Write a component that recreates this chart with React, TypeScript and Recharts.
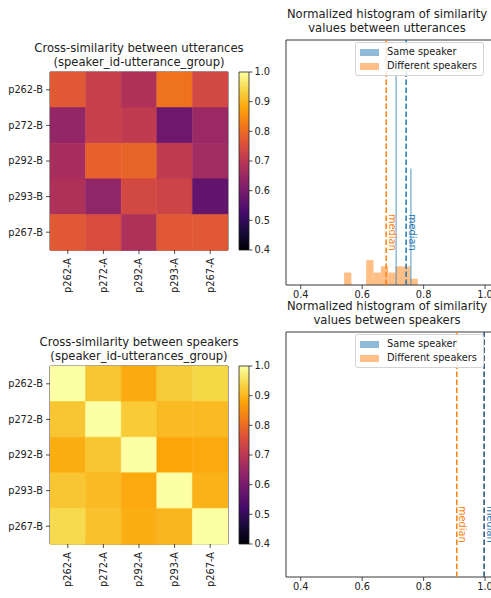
import React from 'react';
import {
  BarChart,
  Bar,
  XAxis,
  YAxis,
  Cell,
  ComposedChart,
  ReferenceArea,
  ReferenceLine,
  Legend,
} from 'recharts';

const FONT = '"DejaVu Sans", Verdana, sans-serif';
const INK = '#222';

// ---------- data ----------
const rowLabels = ['p262-B', 'p272-B', 'p292-B', 'p293-B', 'p267-B'];
const colLabels = ['p262-A', 'p272-A', 'p292-A', 'p293-A', 'p267-A'];

const utteranceMatrix = [
  [0.77, 0.72, 0.68, 0.81, 0.74],
  [0.64, 0.72, 0.71, 0.585, 0.65],
  [0.67, 0.785, 0.79, 0.71, 0.66],
  [0.68, 0.635, 0.74, 0.73, 0.57],
  [0.77, 0.75, 0.68, 0.77, 0.77],
];

const speakerMatrix = [
  [1.0, 0.92, 0.887, 0.926, 0.94],
  [0.92, 1.0, 0.925, 0.905, 0.905],
  [0.89, 0.92, 1.0, 0.88, 0.885],
  [0.92, 0.905, 0.885, 1.0, 0.895],
  [0.945, 0.915, 0.89, 0.9, 1.0],
];

const colorbarTicks = [0.4, 0.5, 0.6, 0.7, 0.8, 0.9, 1.0];
const histTicks = [0.4, 0.6, 0.8, 1.0];

// top histogram (utterances)
const uttDiffBinStarts = [0.541, 0.613, 0.637, 0.661, 0.685, 0.709, 0.733, 0.757];
const uttDiffDensity = [4.17, 8.33, 4.17, 6.25, 4.17, 6.25, 6.25, 2.08];
const uttDiffBinWidth = 0.024;
const uttSameBinStarts = [0.708, 0.756];
const uttSameDensity = [70, 39];
const uttSameBinWidth = 0.005;
const uttMedianSame = 0.743;
const uttMedianDiff = 0.678;

// bottom histogram (speakers)
const spkMedianSame = 0.997;
const spkMedianDiff = 0.908;

const legendLabels = ['Same speaker', 'Different speakers'];
const legendColors = ['#1f77b4', '#ff7f0e'];

// ---------- colormap ----------
const infernoStops = [
  '#000004', '#160b39', '#420a68', '#6a176e', '#932667', '#bc3754',
  '#dd513a', '#f37819', '#fca50a', '#f6d746', '#fcffa4',
];
const VMIN = 0.4;
const VMAX = 1.0;
function hexToRgb(h: string) {
  return [parseInt(h.slice(1, 3), 16), parseInt(h.slice(3, 5), 16), parseInt(h.slice(5, 7), 16)];
}
function inferno(v: number) {
  let t = (v - VMIN) / (VMAX - VMIN);
  t = Math.max(0, Math.min(1, t));
  const p = t * (infernoStops.length - 1);
  const i = Math.min(Math.floor(p), infernoStops.length - 2);
  const f = p - i;
  const a = hexToRgb(infernoStops[i]);
  const b = hexToRgb(infernoStops[i + 1]);
  const c = a.map((x, k) => Math.round(x + (b[k] - x) * f));
  return `rgb(${c[0]},${c[1]},${c[2]})`;
}

// ---------- helpers ----------
const Title = ({ cx, top, lines }: { cx: number; top: number; lines: string[] }) => (
  <div
    style={{
      position: 'absolute',
      left: cx - 150,
      top,
      width: 300,
      textAlign: 'center',
      fontSize: 11.6,
      lineHeight: '13.5px',
      color: INK,
      fontFamily: FONT,
      whiteSpace: 'nowrap',
    }}
  >
    {lines.map((l) => (
      <div key={l}>{l}</div>
    ))}
  </div>
);

const ColTick = (props: any) => {
  const { x, y, payload } = props;
  const label = colLabels[Math.floor(payload.value)];
  return (
    <text
      x={x}
      y={y}
      transform={`rotate(-90 ${x} ${y})`}
      textAnchor="end"
      dy="0.35em"
      fontSize={9.8}
      fill={INK}
      fontFamily={FONT}
    >
      {label}
    </text>
  );
};

function Heatmap({ matrix, top }: { matrix: number[][]; top: number }) {
  const data = rowLabels.map((r) => {
    const o: any = { row: r };
    colLabels.forEach((_, j) => {
      o['c' + j] = 1;
    });
    return o;
  });
  return (
    <div style={{ position: 'absolute', left: 0, top }}>
      <BarChart
        width={240}
        height={235}
        data={data}
        layout="vertical"
        margin={{ top: 12, right: 12, left: 0, bottom: 0 }}
        barCategoryGap={0}
        barGap={0}
      >
        <XAxis
          type="number"
          domain={[0, 5]}
          ticks={[0.5, 1.5, 2.5, 3.5, 4.5]}
          interval={0}
          height={45}
          tick={<ColTick />}
          tickSize={4}
          tickMargin={4}
          axisLine={false}
          tickLine={{ stroke: INK, strokeWidth: 0.8 }}
          allowDataOverflow
        />
        <YAxis
          type="category"
          dataKey="row"
          width={50}
          interval={0}
          tickSize={4}
          tickMargin={3}
          tick={{ fontSize: 9.8, fill: INK, fontFamily: FONT }}
          axisLine={false}
          tickLine={{ stroke: INK, strokeWidth: 0.8 }}
        />
        {colLabels.map((c, j) => (
          <Bar key={c} dataKey={'c' + j} stackId="s" isAnimationActive={false}>
            {matrix.map((row, i) => (
              <Cell key={i} fill={inferno(row[j])} stroke={inferno(row[j])} strokeWidth={0.5} />
            ))}
          </Bar>
        ))}
        <ReferenceArea x1={0} x2={5} fill="none" stroke={INK} strokeWidth={0.9} ifOverflow="visible" />
      </BarChart>
    </div>
  );
}

function Colorbar({ top, id }: { top: number; id: string }) {
  return (
    <div style={{ position: 'absolute', left: 225, top }}>
      <BarChart
        width={52}
        height={235}
        data={[{ k: 'cb', r: [VMIN, VMAX] }]}
        margin={{ top: 12, right: 0, left: 14, bottom: 45 }}
        barCategoryGap={0}
      >
        <defs>
          <linearGradient id={id} x1="0" y1="1" x2="0" y2="0">
            {infernoStops.map((c, i) => (
              <stop key={i} offset={i / (infernoStops.length - 1)} stopColor={c} />
            ))}
          </linearGradient>
        </defs>
        <XAxis dataKey="k" hide />
        <YAxis
          orientation="right"
          type="number"
          domain={[VMIN, VMAX]}
          ticks={colorbarTicks}
          interval={0}
          width={28}
          tickSize={3.5}
          tickMargin={2}
          axisLine={false}
          tickLine={{ stroke: INK, strokeWidth: 0.8 }}
          tick={{ fontSize: 9.8, fill: INK, fontFamily: FONT }}
          tickFormatter={(v: number) => v.toFixed(1)}
        />
        <Bar dataKey="r" fill={`url(#${id})`} stroke={INK} strokeWidth={0.8} isAnimationActive={false} />
      </BarChart>
    </div>
  );
}

const MedianLabel = (props: any) => {
  const { viewBox, color } = props;
  if (!viewBox) return null;
  const x = viewBox.x + 2.5;
  const y = viewBox.y + viewBox.height * 0.785;
  return (
    <text
      x={x}
      y={y}
      transform={`rotate(90 ${x} ${y})`}
      textAnchor="middle"
      fill={color}
      fontSize={9.8}
      fontFamily={FONT}
    >
      median
    </text>
  );
};

const LegendBox = () => (
  <div
    style={{
      border: '1px solid #d4d4d4',
      borderRadius: 3,
      background: 'rgba(255,255,255,0.85)',
      padding: '2px 6px 2px 4px',
      fontFamily: FONT,
      fontSize: 9.8,
      lineHeight: '14px',
      color: INK,
      whiteSpace: 'nowrap',
    }}
  >
    {legendLabels.map((l, i) => (
      <div key={l} style={{ display: 'flex', alignItems: 'center' }}>
        <span
          style={{
            display: 'inline-block',
            width: 19,
            height: 7,
            background: legendColors[i],
            opacity: 0.5,
            marginRight: 8,
          }}
        />
        <span>{l}</span>
      </div>
    ))}
  </div>
);

const X_DOMAIN: [number, number] = [0.352, 1.0226];
const Y_MAX = 82;

function Histogram({
  top,
  diffStarts,
  diffDensity,
  diffWidth,
  sameStarts,
  sameDensity,
  sameWidth,
  medianSame,
  medianDiff,
  sameLineColor,
}: any) {
  const data = histTicks.map((t) => ({ x: t }));
  return (
    <div style={{ position: 'absolute', left: 280, top }}>
      <ComposedChart
        width={212}
        height={275}
        data={data}
        margin={{ top: 10, right: 0, left: 6, bottom: 0 }}
      >
        <XAxis
          type="number"
          dataKey="x"
          domain={X_DOMAIN}
          ticks={histTicks}
          interval={0}
          allowDataOverflow
          height={20}
          tickSize={4}
          tickMargin={2}
          tickFormatter={(v: number) => v.toFixed(1)}
          tick={{ fontSize: 9.8, fill: INK, fontFamily: FONT }}
          axisLine={false}
          tickLine={{ stroke: INK, strokeWidth: 0.8 }}
        />
        <YAxis
          type="number"
          domain={[0, Y_MAX]}
          allowDataOverflow
          width={0}
          tick={false}
          tickLine={false}
          axisLine={false}
        />
        {diffStarts.map((s: number, i: number) => (
          <ReferenceArea
            key={'d' + i}
            x1={s}
            x2={s + diffWidth}
            y1={0}
            y2={diffDensity[i]}
            fill="#ff7f0e"
            fillOpacity={0.5}
            stroke="none"
            ifOverflow="hidden"
          />
        ))}
        {sameStarts.map((s: number, i: number) => (
          <ReferenceArea
            key={'s' + i}
            x1={s}
            x2={s + sameWidth}
            y1={0}
            y2={sameDensity[i]}
            fill="#1f77b4"
            fillOpacity={0.5}
            stroke="none"
            ifOverflow="hidden"
          />
        ))}
        <ReferenceLine
          x={medianDiff}
          stroke="#ff7f0e"
          strokeWidth={1.5}
          strokeDasharray="5.5 2.5"
          label={<MedianLabel color="#ff7f0e" />}
        />
        <ReferenceLine
          x={medianSame}
          stroke={sameLineColor}
          strokeWidth={1.5}
          strokeDasharray="5.5 2.5"
          label={<MedianLabel color="#1f77b4" />}
        />
        <ReferenceArea
          x1={X_DOMAIN[0]}
          x2={X_DOMAIN[1]}
          fill="none"
          stroke={INK}
          strokeWidth={0.9}
          ifOverflow="visible"
        />
        <Legend
          layout="vertical"
          align="center"
          verticalAlign="middle"
          wrapperStyle={{ left: 75, top: 12, width: 'auto', height: 'auto' }}
          content={() => <LegendBox />}
        />
      </ComposedChart>
    </div>
  );
}

export default function App() {
  return (
    <div
      style={{
        position: 'absolute',
        left: 0,
        top: 0,
        width: 491,
        height: 598,
        background: '#fff',
        overflow: 'hidden',
        fontFamily: FONT,
      }}
    >
      <Title cx={139} top={42} lines={['Cross-similarity between utterances', '(speaker_id-utterance_group)']} />
      <Heatmap matrix={utteranceMatrix} top={60} />
      <Colorbar top={60} id="cbTop" />

      <Title cx={139} top={336} lines={['Cross-similarity between speakers', '(speaker_id-utterances_group)']} />
      <Heatmap matrix={speakerMatrix} top={354} />
      <Colorbar top={354} id="cbBottom" />

      <Title cx={387} top={8} lines={['Normalized histogram of similarity', 'values between utterances']} />
      <Histogram
        top={30}
        diffStarts={uttDiffBinStarts}
        diffDensity={uttDiffDensity}
        diffWidth={uttDiffBinWidth}
        sameStarts={uttSameBinStarts}
        sameDensity={uttSameDensity}
        sameWidth={uttSameBinWidth}
        medianSame={uttMedianSame}
        medianDiff={uttMedianDiff}
        sameLineColor="#1f77b4"
      />

      <Title cx={387} top={300} lines={['Normalized histogram of similarity', 'values between speakers']} />
      <Histogram
        top={322}
        diffStarts={[]}
        diffDensity={[]}
        diffWidth={0}
        sameStarts={[]}
        sameDensity={[]}
        sameWidth={0}
        medianSame={spkMedianSame}
        medianDiff={spkMedianDiff}
        sameLineColor="#1f4f7a"
      />
    </div>
  );
}
